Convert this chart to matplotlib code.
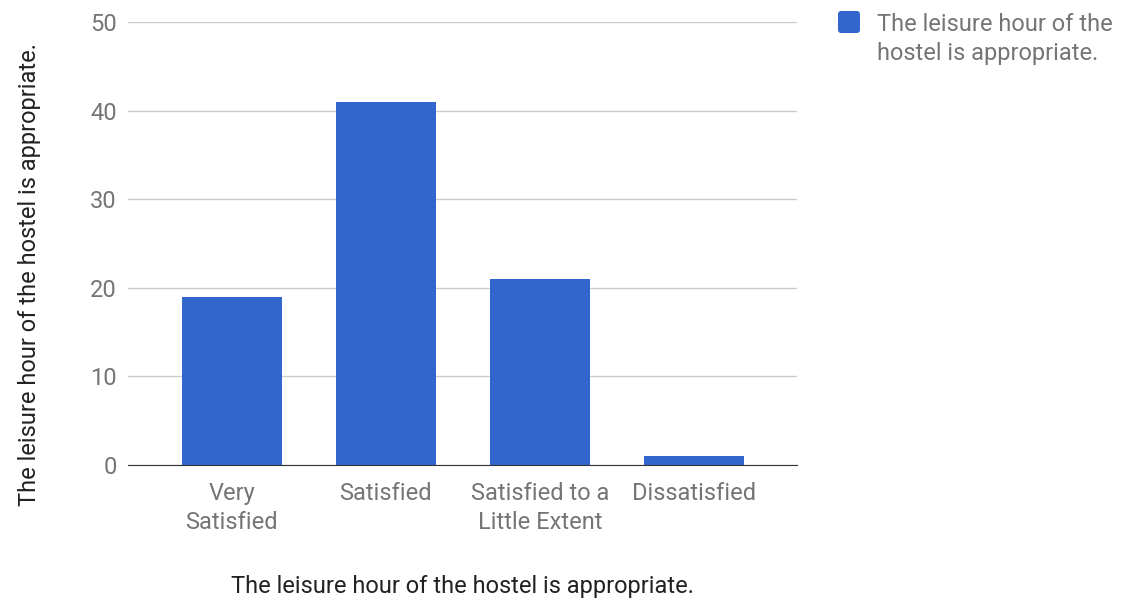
import matplotlib
matplotlib.use('Agg')
import matplotlib.pyplot as plt
from matplotlib.patches import FancyBboxPatch

categories = ['Very\nSatisfied', 'Satisfied', 'Satisfied to a\nLittle Extent', 'Dissatisfied']
values = [19, 41, 21, 1]
yticks = [0, 10, 20, 30, 40, 50]
title = 'The leisure hour of the hostel is appropriate.'
legend_lines = ['The leisure hour of the', 'hostel is appropriate.']

plt.rcParams['font.family'] = ['Roboto', 'DejaVu Sans']
fs = 17
W, H = 1121, 601

fig = plt.figure(figsize=(W / 100, H / 100), dpi=100)
ax = fig.add_axes([0.114, 0.2263, 0.597, 0.7371])

x = list(range(len(values)))
ax.bar(x, values, width=0.65, color='#3366cc', zorder=3)

ax.set_xlim(-0.675, 3.67)
ax.set_ylim(0, 50)
ax.set_yticks(yticks)
ax.set_xticks(x)
ax.set_xticklabels(categories, fontsize=fs, color='#757575', linespacing=1.33)
ax.tick_params(axis='y', labelsize=fs, labelcolor='#757575', length=0, pad=8)
ax.tick_params(axis='x', length=0, pad=12)
ax.grid(axis='y', color='#cccccc', linewidth=1, zorder=0)

for s in ['top', 'right', 'left']:
    ax.spines[s].set_visible(False)
ax.spines['bottom'].set_color('#333333')
ax.spines['bottom'].set_zorder(4)

ax.set_xlabel(title, fontsize=fs, color='#222222', labelpad=30)
ax.set_ylabel(title, fontsize=fs, color='#222222', labelpad=35)
ax.yaxis.label.set_y(0.43)

# legend drawn by hand so the swatch lines up with the first text line
sw = FancyBboxPatch((838 / W, 1 - 33 / H), 22 / W, 22 / H,
                    boxstyle='round,pad=0,rounding_size=0.003',
                    transform=fig.transFigure, facecolor='#3366cc',
                    edgecolor='none', mutation_aspect=W / H)
fig.patches.append(sw)
fig.text(877 / W, 1 - 31 / H, legend_lines[0], fontsize=fs, color='#757575', va='baseline')
fig.text(877 / W, 1 - 60 / H, legend_lines[1], fontsize=fs, color='#757575', va='baseline')

plt.savefig('out.png', dpi=100)
